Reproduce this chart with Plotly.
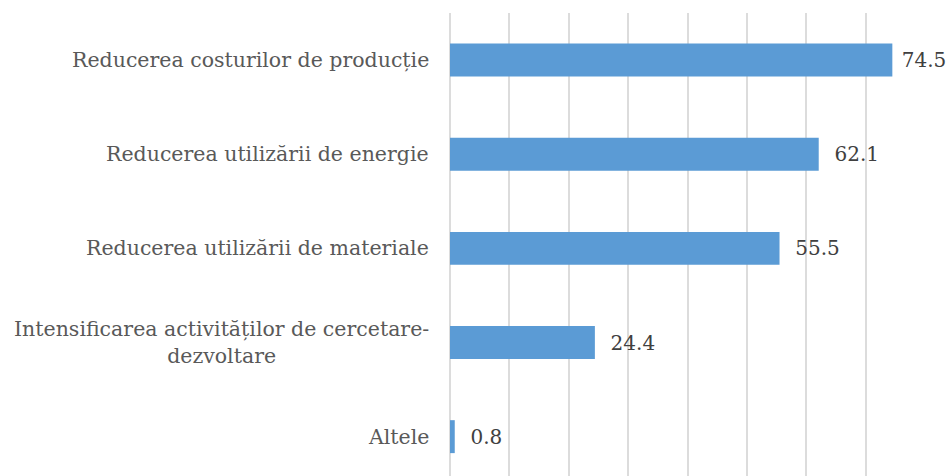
import plotly.graph_objects as go

categories = [
    "Reducerea costurilor de producție",
    "Reducerea utilizării de energie",
    "Reducerea utilizării de materiale",
    "Intensificarea activităților de cercetare-<br>dezvoltare",
    "Altele",
]
values = [74.5, 62.1, 55.5, 24.4, 0.8]
x_ticks = [0, 10, 20, 30, 40, 50, 60, 70, 80]

FONT = "DejaVu Serif"

# the longest bar's label sits a little closer to its bar (as in the reference)
label_templates = [" %{text}" if v == max(values) else "  %{text}" for v in values]

fig = go.Figure(
    go.Bar(
        y=categories,
        x=values,
        orientation="h",
        marker=dict(color="#5B9BD5", line=dict(width=0)),
        text=[f"{v:.1f}" for v in values],
        texttemplate=label_templates,
        textposition="outside",
        textfont=dict(family=FONT, size=20, color="#404040"),
        cliponaxis=False,
        hoverinfo="skip",
    )
)

annotations = []
for c in categories:
    annotations.append(
        dict(
            x=0, xref="paper", y=c, yref="y",
            text=c, showarrow=False,
            xanchor="right", yanchor="middle", align="center",
            xshift=-19,
            font=dict(family=FONT, size=20.5, color="#595959"),
        )
    )

fig.update_layout(
    width=947, height=476,
    margin=dict(l=450, r=22, t=13, b=0),
    paper_bgcolor="white", plot_bgcolor="white",
    showlegend=False,
    bargap=0.65,
    annotations=annotations,
    xaxis=dict(
        range=[0, 80], tickvals=x_ticks, showticklabels=False,
        showgrid=True, gridcolor="#DCDCDC", gridwidth=1.5,
        zeroline=True, zerolinecolor="#DCDCDC", zerolinewidth=1.5,
        showline=False, fixedrange=True,
    ),
    yaxis=dict(
        categoryorder="array", categoryarray=categories,
        range=[4.418, -0.5],
        showticklabels=False, showgrid=False, zeroline=False, showline=False,
        fixedrange=True,
    ),
)

fig.write_html(
    "out.html",
    config={"displayModeBar": False},
    post_script="document.body.style.margin='0';document.body.style.overflow='hidden';",
)
